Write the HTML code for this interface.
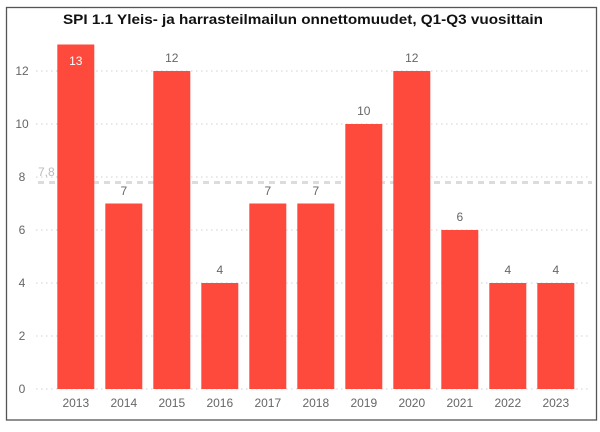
<!DOCTYPE html>
<html>
<head>
<meta charset="utf-8">
<style>
  html,body{margin:0;padding:0;background:#fff;}
  svg{display:block;}
  text{font-family:"Liberation Sans",sans-serif;}
</style>
</head>
<body>
<svg width="600" height="432" viewBox="0 0 600 432" xmlns="http://www.w3.org/2000/svg">
  <rect x="0" y="0" width="600" height="432" fill="#fff"/>
  <rect x="6.5" y="7.5" width="590" height="412.5" fill="#fff" stroke="#555" stroke-width="1.3"/>
  <text x="303" y="24" text-anchor="middle" font-size="14" font-weight="bold" fill="#111" textLength="480" lengthAdjust="spacingAndGlyphs">SPI 1.1 Yleis- ja harrasteilmailun onnettomuudet, Q1-Q3 vuosittain</text>

  <!-- gridlines -->
  <g stroke="#d0d0d0" stroke-width="1" stroke-dasharray="1.5,3.5">
    <line x1="36" y1="389" x2="590" y2="389"/>
    <line x1="36" y1="336" x2="590" y2="336"/>
    <line x1="36" y1="283" x2="590" y2="283"/>
    <line x1="36" y1="230" x2="590" y2="230"/>
    <line x1="36" y1="177" x2="590" y2="177"/>
    <line x1="36" y1="124" x2="590" y2="124"/>
    <line x1="36" y1="71" x2="590" y2="71"/>
  </g>
  <!-- y labels -->
  <g font-size="12" fill="#666" text-anchor="middle">
    <text x="22" y="393">0</text>
    <text x="22" y="340">2</text>
    <text x="22" y="287">4</text>
    <text x="22" y="234">6</text>
    <text x="22" y="181">8</text>
    <text x="22" y="128">10</text>
    <text x="22" y="75">12</text>
  </g>

  <!-- average line -->
  <line x1="38" y1="182.5" x2="592" y2="182.5" stroke="#dcdcdc" stroke-width="3" stroke-dasharray="6,5"/>
  <text x="38" y="176" font-size="12" fill="#bbb">7,8</text>

  <!-- bars -->
  <g fill="#FD4A3D">
    <rect x="57.3" y="44.5" width="37" height="344.5"/>
    <rect x="105.3" y="203.5" width="37" height="185.5"/>
    <rect x="153.3" y="71" width="37" height="318"/>
    <rect x="201.3" y="283" width="37" height="106"/>
    <rect x="249.3" y="203.5" width="37" height="185.5"/>
    <rect x="297.3" y="203.5" width="37" height="185.5"/>
    <rect x="345.3" y="124" width="37" height="265"/>
    <rect x="393.3" y="71" width="37" height="318"/>
    <rect x="441.3" y="230" width="37" height="159"/>
    <rect x="489.3" y="283" width="37" height="106"/>
    <rect x="537.3" y="283" width="37" height="106"/>
  </g>

  <!-- value labels -->
  <g font-size="12" text-anchor="middle" fill="#666">
    <text x="75.8" y="65" fill="#fff">13</text>
    <text x="123.8" y="195">7</text>
    <text x="171.8" y="62">12</text>
    <text x="219.8" y="274">4</text>
    <text x="267.8" y="195">7</text>
    <text x="315.8" y="195">7</text>
    <text x="363.8" y="115">10</text>
    <text x="411.8" y="62">12</text>
    <text x="459.8" y="221">6</text>
    <text x="507.8" y="274">4</text>
    <text x="555.8" y="274">4</text>
  </g>

  <!-- x labels -->
  <g font-size="12" text-anchor="middle" fill="#666">
    <text x="75.8" y="407">2013</text>
    <text x="123.8" y="407">2014</text>
    <text x="171.8" y="407">2015</text>
    <text x="219.8" y="407">2016</text>
    <text x="267.8" y="407">2017</text>
    <text x="315.8" y="407">2018</text>
    <text x="363.8" y="407">2019</text>
    <text x="411.8" y="407">2020</text>
    <text x="459.8" y="407">2021</text>
    <text x="507.8" y="407">2022</text>
    <text x="555.8" y="407">2023</text>
  </g>
</svg>
</body>
</html>
